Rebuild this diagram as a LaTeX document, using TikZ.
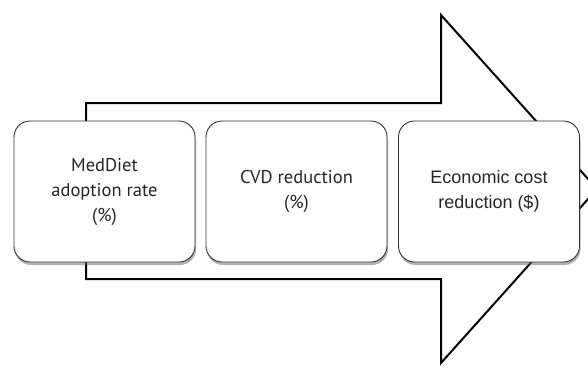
\documentclass[tikz,border=0pt]{standalone}
\usepackage{fontspec}
\setmainfont{Liberation Sans}
\newfontfamily\myr{PT Sans}
\usetikzlibrary{shadows}
\begin{document}
\begin{tikzpicture}[x=1pt,y=1pt,
  stagebox/.style={draw=black!80, line width=0.9pt, fill=white, rounded corners=16pt,
    minimum width=181pt, minimum height=141pt, inner sep=0pt, align=center,
    text=black!85,
    drop shadow={shadow xshift=1pt, shadow yshift=-3pt, opacity=0.5, fill=black!60}},
  bigarrow/.style={draw=black, line width=2pt, line join=miter}]
\useasboundingbox (0,0) rectangle (588,368);
\clip (0,0) rectangle (588,368);
\coordinate (a1) at (86,265);
\coordinate (a2) at (441,265);
\coordinate (a3) at (441,353);
\coordinate (a4) at (597,179);
\coordinate (a5) at (441,5);
\coordinate (a6) at (441,89);
\coordinate (a7) at (86,89);
\draw[bigarrow] (a1) -- (a2) -- (a3) -- (a4) -- (a5) -- (a6) -- (a7) -- cycle;
\node[stagebox] (b1) at (104.5,176.5) {\raisebox{-4pt}{\parbox{170pt}{\centering\myr\fontsize{18.5}{25}\selectfont MedDiet\\adoption rate\\(\%)}}};
\node[stagebox] (b2) at (296.5,176.5) {\raisebox{-4pt}{\parbox{170pt}{\centering\myr\fontsize{18.5}{25}\selectfont CVD reduction\\(\%)}}};
\node[stagebox] (b3) at (489,176.5) {\raisebox{-4pt}{\parbox{170pt}{\centering\fontsize{18}{25}\selectfont Economic cost\\reduction (\$)}}};
\end{tikzpicture}
\end{document}
